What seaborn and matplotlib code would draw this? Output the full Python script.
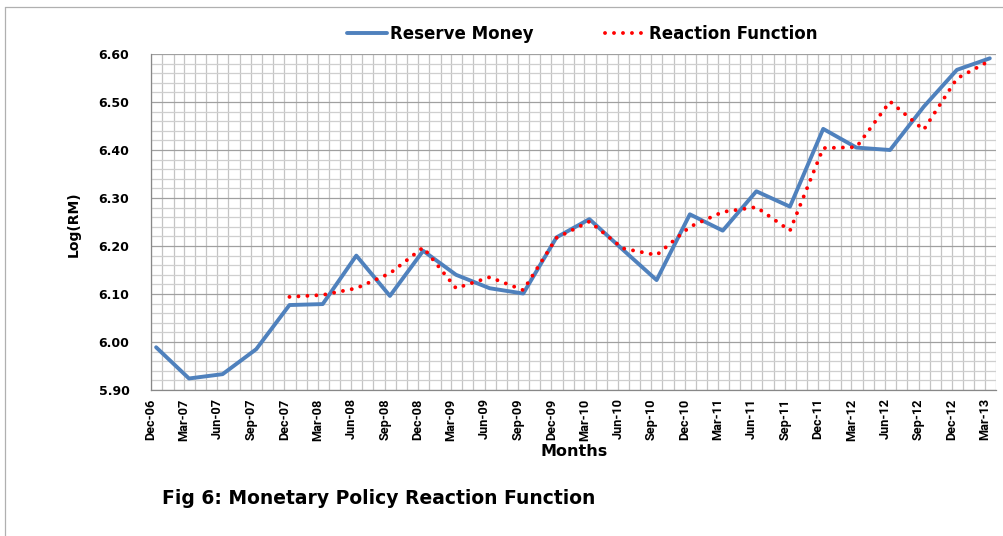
import numpy as np
import pandas as pd
import matplotlib
matplotlib.use("Agg")
import matplotlib.pyplot as plt
import matplotlib.dates as mdates
import matplotlib.ticker as mticker
from matplotlib import font_manager
import seaborn as sns

# quarterly labels and the two series (log of reserve money)
labels = ["Dec-06", "Mar-07", "Jun-07", "Sep-07", "Dec-07", "Mar-08", "Jun-08", "Sep-08",
          "Dec-08", "Mar-09", "Jun-09", "Sep-09", "Dec-09", "Mar-10", "Jun-10", "Sep-10",
          "Dec-10", "Mar-11", "Jun-11", "Sep-11", "Dec-11", "Mar-12", "Jun-12", "Sep-12",
          "Dec-12", "Mar-13"]
reserve_money = [5.989, 5.924, 5.933, 5.985, 6.077, 6.079, 6.180, 6.096,
                 6.190, 6.140, 6.112, 6.101, 6.218, 6.256, 6.192, 6.129,
                 6.266, 6.232, 6.314, 6.282, 6.444, 6.405, 6.400, 6.490,
                 6.567, 6.591]
reaction_fn = [np.nan, np.nan, np.nan, np.nan, 6.094, 6.098, 6.112, 6.143,
               6.197, 6.112, 6.135, 6.108, 6.217, 6.251, 6.195, 6.181,
               6.240, 6.271, 6.281, 6.232, 6.404, 6.406, 6.501, 6.442,
               6.549, 6.586]

# tick at start of each quarter month, data plotted mid month (date axis like excel)
quarter_start = pd.date_range("2006-12-01", periods=len(labels), freq="3MS")
dates = quarter_start + pd.Timedelta(days=14)

df = pd.DataFrame({"date": dates, "rm": reserve_money, "rf": reaction_fn})

sns.set_style("white")
plt.rcParams["font.family"] = ["DejaVu Sans"]
plt.rcParams["text.color"] = "black"
plt.rcParams["xtick.color"] = "black"
plt.rcParams["ytick.color"] = "black"

# narrow font for the rotated date labels, if one is around
installed = {f.name for f in font_manager.fontManager.ttflist}
narrow = "Roboto"
for cand in ["Liberation Sans Narrow", "DejaVu Sans Condensed"]:
    if cand in installed:
        narrow = cand
        break

fig = plt.figure(figsize=(10.04, 5.36), dpi=100)
ax = fig.add_axes([151 / 1004, 1 - 390 / 536, 845 / 1004, 336 / 536])

sns.lineplot(data=df, x="date", y="rm", ax=ax, color="#4F81BD", lw=2.8,
             label="Reserve Money", zorder=3)
sns.lineplot(data=df.dropna(), x="date", y="rf", ax=ax, color="#FF0000", lw=2.8,
             linestyle=(0, (0.01, 2.3)), dash_capstyle="round",
             label="Reaction Function", zorder=4)

ax.set_xlim(pd.Timestamp("2006-12-01"), pd.Timestamp("2013-04-01"))
ax.set_ylim(5.90, 6.60)

ax.set_xticks(quarter_start)
ax.set_xticklabels(labels, rotation=90, fontsize=9.2, fontweight="bold",
                   family=[narrow, "DejaVu Sans"])
ax.xaxis.set_minor_locator(mdates.MonthLocator())
ax.yaxis.set_major_locator(mticker.MultipleLocator(0.10))
ax.yaxis.set_minor_locator(mticker.MultipleLocator(0.02))
ax.yaxis.set_major_formatter(mticker.FormatStrFormatter("%.2f"))
for t in ax.get_yticklabels():
    t.set_fontweight("bold")
    t.set_fontsize(9)

ax.tick_params(axis="x", which="major", direction="out", length=4, width=0.8,
               color="#888888", labelcolor="black", pad=2)
ax.tick_params(axis="y", which="major", direction="out", length=4.5, width=0.8,
               color="#888888", labelcolor="black", pad=11)
ax.tick_params(which="minor", length=0)

ax.grid(which="major", axis="y", color="#a0a0a0", lw=0.9)
ax.grid(which="minor", axis="y", color="#cfcfcf", lw=0.9)
ax.grid(which="both", axis="x", color="#c4c4c4", lw=0.9)
ax.set_axisbelow(True)

for s in ["top", "right"]:
    ax.spines[s].set_visible(False)
for s in ["left", "bottom"]:
    ax.spines[s].set_color("#888888")
    ax.spines[s].set_linewidth(0.9)

ax.set_xlabel("")
ax.set_ylabel("")
leg = ax.legend(loc="center", bbox_to_anchor=(582 / 1004, 1 - 34 / 536),
                bbox_transform=fig.transFigure, ncol=2, frameon=False,
                prop={"weight": "bold", "size": 12}, handlelength=2.4,
                handletextpad=0.2, columnspacing=4.3)
for t in leg.get_texts():
    t.set_color("black")

fig.text(74 / 1004, 1 - 224 / 536, "Log(RM)", rotation=90, ha="center", va="center",
         fontsize=10, fontweight="bold", color="black")
fig.text(574 / 1004, 1 - 452 / 536, "Months", ha="center", va="center",
         fontsize=11.5, fontweight="bold", color="black")
fig.text(162 / 1004, 1 - 498 / 536, "Fig 6: Monetary Policy Reaction Function",
         ha="left", va="center", fontsize=13.5, fontweight="bold", color="black")

# light border around chart area (cut at right/bottom like the source)
fig.add_artist(plt.Line2D([5 / 1004, 5 / 1004], [0, 1 - 7 / 536], color="#b0b0b0",
                          lw=0.9, transform=fig.transFigure))
fig.add_artist(plt.Line2D([5 / 1004, 1], [1 - 7 / 536, 1 - 7 / 536], color="#b0b0b0",
                          lw=0.9, transform=fig.transFigure))

plt.savefig("out.png", dpi=100)
plt.close()
